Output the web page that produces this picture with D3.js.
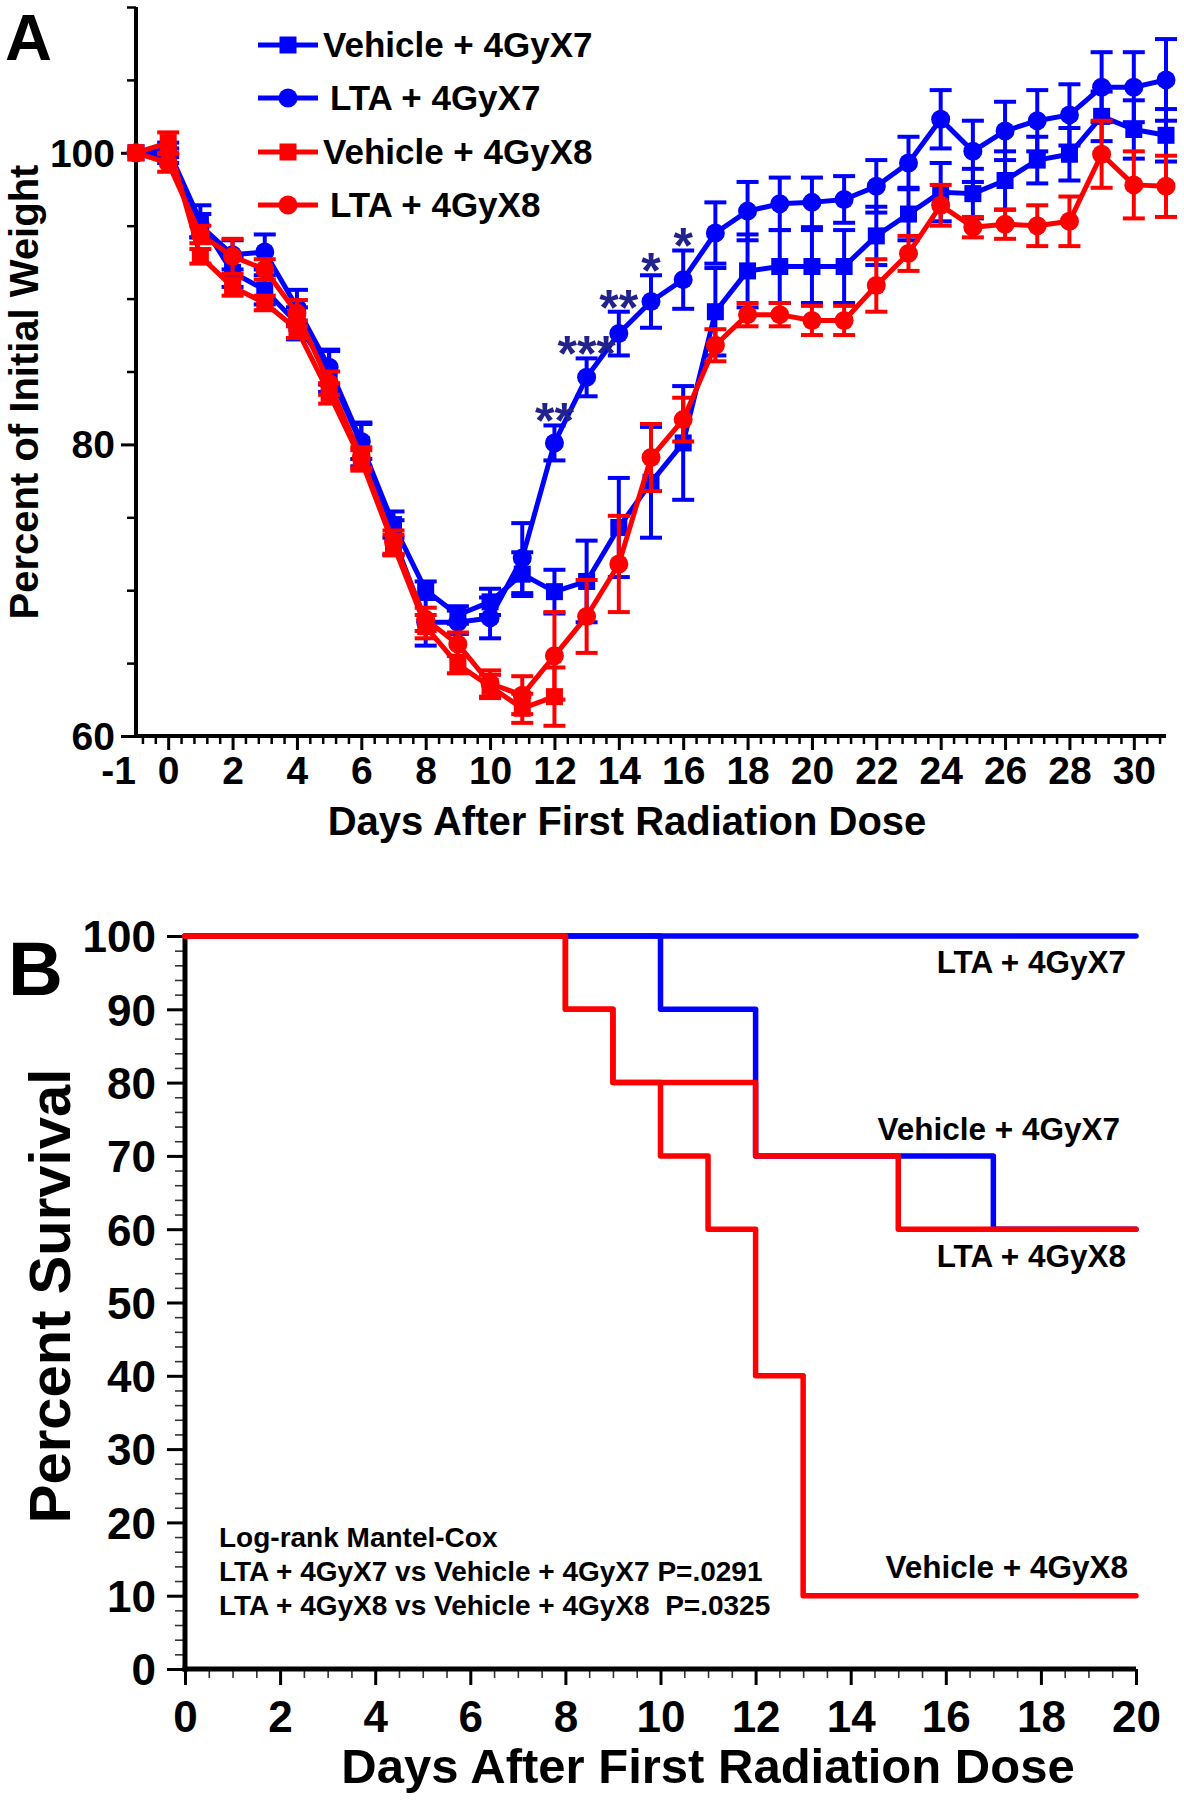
<!DOCTYPE html>
<html><head><meta charset="utf-8">
<script src="https://cdn.jsdelivr.net/npm/d3@7"></script>
<style>
body{margin:0;background:#fff}
svg{display:block}
text{font-family:"Liberation Sans",Arial,Helvetica,sans-serif;font-weight:bold;fill:#000}
</style>
</head><body>
<svg id="chart" width="1184" height="1800"></svg>
<script>
// ---------- Panel A data (percent of initial weight) ----------
const days = [-1,0,1,2,3,4,5,6,7,8,9,10,11,12,13,14,15,16,17,18,19,20,21,22,23,24,25,26,27,28,29,30,31];
const veh7Mean = [100,100.2,95.3,91.8,90.6,88.3,85.0,80.0,74.5,70.0,68.3,69.2,71.1,69.9,70.6,74.3,77.4,80.1,89.1,91.9,92.2,92.2,92.2,94.3,95.8,97.3,97.2,98.1,99.5,99.9,102.5,101.6,101.2];
const veh7Sem  = [0,0.5,1.1,1.0,1.0,1.1,1.4,1.5,0.9,0.6,0.6,0.9,1.5,1.5,2.8,3.4,3.8,3.9,3.0,2.5,2.5,2.5,2.5,2.0,1.8,2.0,1.7,2.0,1.6,1.8,1.7,2.0,1.8];
const lta7Mean = [100,99.8,95.0,93.0,93.2,89.4,85.3,80.2,73.6,67.8,67.8,68.1,72.2,80.1,84.6,87.6,89.8,91.3,94.5,96.0,96.5,96.6,96.8,97.7,99.3,102.3,100.1,101.5,102.2,102.6,104.5,104.5,105.0];
const lta7Sem  = [0,0.5,0.8,1.0,1.2,1.2,1.2,1.2,1.2,1.6,0.8,1.4,2.4,1.2,1.3,1.5,1.8,2.0,2.1,2.0,1.8,1.7,1.6,1.8,1.8,2.0,2.1,2.0,2.1,2.1,2.4,2.4,2.8];
const veh8Days = [-1,0,1,2,3,4,5,6,7,8,9,10,11,12];
const veh8Mean = [100,100.7,92.9,90.8,89.7,87.9,83.5,78.9,73.1,67.5,64.9,63.4,61.9,62.7];
const veh8Sem  = [0,0.7,0.5,0.6,0.5,0.6,0.7,0.7,0.7,0.8,0.6,0.8,1.0,2.0];
const lta8Mean = [100,99.3,94.4,92.9,92.0,89.0,84.2,79.1,73.3,68.0,66.3,63.6,62.8,65.5,68.2,71.8,79.1,81.7,86.8,88.9,88.9,88.5,88.5,90.9,93.1,96.4,94.9,95.1,95.0,95.3,99.9,97.8,97.7];
const lta8Sem  = [0,0.6,0.6,1.2,0.7,0.9,0.8,0.7,0.8,0.8,0.8,0.9,1.3,3.0,2.5,3.3,2.3,1.5,1.1,0.8,0.8,1.0,1.0,1.8,1.2,1.4,0.7,1.0,1.4,1.7,2.3,2.3,2.1];
const seriesNames = ["Vehicle + 4GyX7","LTA + 4GyX7","Vehicle + 4GyX8","LTA + 4GyX8"];
const sigDays   = [12,13,14,15,16];
const sigLabels = ["**","***","**","*","*"];
const weightTicks = [60,80,100];
const weightMinorTicks = [65,70,75,85,90,95,105,110];
const dayTicks = [-1,0,2,4,6,8,10,12,14,16,18,20,22,24,26,28,30];

// ---------- Panel B data (percent survival, Kaplan-Meier steps) ----------
const lta7Times = [0,20],                 lta7Surv = [100,100];
const veh7Times = [0,10,12,17,20],        veh7Surv = [100,90,70,60,60];
const lta8Times = [0,8,9,12,15,20],       lta8Surv = [100,90,80,70,60,60];
const veh8Times = [0,8,9,10,11,12,13,20], veh8Surv = [100,90,80,70,60,40,10,10];
const survTicks = [0,10,20,30,40,50,60,70,80,90,100];
const survDayTicks = [0,2,4,6,8,10,12,14,16,18,20];
const statLines = ["Log-rank Mantel-Cox","LTA + 4GyX7 vs Vehicle + 4GyX7 P=.0291","LTA + 4GyX8 vs Vehicle + 4GyX8  P=.0325"];

const BLUE = "#0000ff", RED = "#ff0000", NAVY = "#22228c";
const fmt = d => String(d);   // plain hyphen-minus
const svg = d3.select("#chart");

// ================= PANEL A =================
const xA = d3.scaleLinear().domain([-1,31]).range([136,1166]);
const yA = d3.scaleLinear().domain([60,110]).range([736,7]);
const gA = svg.append("g");

function styleAxis(g, w, col){
  g.select(".domain").remove();
  g.selectAll(".tick line").attr("stroke", col||"#000").attr("stroke-width", w);
}
// x axis A
const xMinorA = d3.range(-0.8, 31, 0.4).map(v=>+v.toFixed(1)).filter(v=>Math.abs(v/2-Math.round(v/2))>1e-6);
gA.append("g").attr("transform","translate(0,736)")
  .call(d3.axisBottom(xA).tickValues(xMinorA).tickSize(8).tickFormat(""))
  .call(g=>styleAxis(g,2.5));
const xAxA = gA.append("g").attr("transform","translate(0,736)")
  .call(d3.axisBottom(xA).tickValues(dayTicks.filter(d=>d>=0)).tickSize(14).tickFormat(fmt))
  .call(g=>styleAxis(g,3));
xAxA.selectAll(".tick text").attr("y",48).attr("dy",null).attr("font-size",39).attr("fill","#000");
gA.append("text").attr("x",136).attr("y",736+48).attr("text-anchor","end").attr("font-size",39).text(fmt(dayTicks[0]));
// y axis A
gA.append("g").attr("transform","translate(136,0)")
  .call(d3.axisLeft(yA).tickValues(weightMinorTicks).tickSize(9).tickFormat(""))
  .call(g=>styleAxis(g,2.5));
const yAxA = gA.append("g").attr("transform","translate(136,0)")
  .call(d3.axisLeft(yA).tickValues(weightTicks).tickSize(15).tickFormat(fmt))
  .call(g=>styleAxis(g,3));
yAxA.selectAll(".tick text").attr("x",-21).attr("dy","0.34em").attr("font-size",39).attr("fill","#000");
// axis lines
gA.append("line").attr("x1",136).attr("x2",136).attr("y1",yA(110)).attr("y2",737.5).attr("stroke","#000").attr("stroke-width",4);
gA.append("line").attr("x1",134).attr("x2",xA(31)).attr("y1",736).attr("y2",736).attr("stroke","#000").attr("stroke-width",4);

// series
const seriesA = [
  {name:seriesNames[0], x:days, m:veh7Mean, s:veh7Sem, col:BLUE, shape:"square"},
  {name:seriesNames[1], x:days, m:lta7Mean, s:lta7Sem, col:BLUE, shape:"circle"},
  {name:seriesNames[2], x:veh8Days, m:veh8Mean, s:veh8Sem, col:RED, shape:"square"},
  {name:seriesNames[3], x:days, m:lta8Mean, s:lta8Sem, col:RED, shape:"circle"}
];
const SQ = 17, CR = 9.5, CAP = 11;
function marker(g, shape, cx, cy, col){
  if(shape==="square") g.append("rect").attr("x",cx-SQ/2).attr("y",cy-SQ/2).attr("width",SQ).attr("height",SQ).attr("fill",col);
  else g.append("circle").attr("cx",cx).attr("cy",cy).attr("r",CR).attr("fill",col);
}
const lineA = d3.line().x(d=>xA(d.x)).y(d=>yA(d.m));
seriesA.forEach(S=>{
  const g = gA.append("g");
  const pts = S.x.map((x,i)=>({x, m:S.m[i], s:S.s[i]}));
  const eb = g.append("g").attr("stroke",S.col).attr("stroke-width",4);
  pts.filter(p=>p.s>0).forEach(p=>{
    const cx = xA(p.x), t = yA(p.m+p.s), b = yA(p.m-p.s);
    eb.append("line").attr("x1",cx).attr("x2",cx).attr("y1",t).attr("y2",b);
    eb.append("line").attr("x1",cx-CAP).attr("x2",cx+CAP).attr("y1",t).attr("y2",t);
    eb.append("line").attr("x1",cx-CAP).attr("x2",cx+CAP).attr("y1",b).attr("y2",b);
  });
  g.append("path").datum(pts).attr("d",lineA).attr("fill","none").attr("stroke",S.col).attr("stroke-width",5).attr("stroke-linejoin","round");
  pts.forEach(p=>marker(g,S.shape,xA(p.x),yA(p.m),S.col));
});
// significance
sigDays.forEach((d,i)=>{
  const k = days.indexOf(d);
  gA.append("text").attr("x",xA(d)).attr("y",yA(lta7Mean[k]+lta7Sem[k])+13)
    .attr("text-anchor","middle").attr("font-size",50).style("fill",NAVY).text(sigLabels[i]);
});
// legend
const legRows = [45,98,152,205];
seriesA.forEach((S,i)=>{
  const y = legRows[i];
  gA.append("line").attr("x1",258).attr("x2",318).attr("y1",y).attr("y2",y).attr("stroke",S.col).attr("stroke-width",5);
  marker(gA,S.shape,288,y,S.col);
  gA.append("text").attr("x", S.name.startsWith("LTA")?330:323).attr("y",y+12).attr("font-size",35).text(S.name);
});
// titles
gA.append("text").attr("transform","translate(38,392) rotate(-90)").attr("text-anchor","middle").attr("font-size",40).text("Percent of Initial Weight");
gA.append("text").attr("x",627).attr("y",835).attr("text-anchor","middle").attr("font-size",40).text("Days After First Radiation Dose");
gA.append("text").attr("x",5).attr("y",60).attr("font-size",65).text("A");

// ================= PANEL B =================
const xB = d3.scaleLinear().domain([0,20]).range([185,1136]);
const yB = d3.scaleLinear().domain([0,100]).range([1669,936]);
const gB = svg.append("g");
const yMinorB = d3.range(0,101,2).filter(v=>v%10!==0);
gB.append("g").attr("transform","translate(185,0)")
  .call(d3.axisLeft(yB).tickValues(yMinorB).tickSize(10).tickFormat(""))
  .call(g=>styleAxis(g,1.6,"#333"));
const yAxB = gB.append("g").attr("transform","translate(185,0)")
  .call(d3.axisLeft(yB).tickValues(survTicks).tickSize(18).tickFormat(fmt))
  .call(g=>styleAxis(g,3));
yAxB.selectAll(".tick text").attr("x",-29).attr("dy","0.36em").attr("font-size",44).attr("fill","#000");
const xMinorB = d3.range(0.5,20,0.5).filter(v=>v%2!==0);
gB.append("g").attr("transform","translate(0,1669)")
  .call(d3.axisBottom(xB).tickValues(xMinorB).tickSize(9).tickFormat(""))
  .call(g=>styleAxis(g,1.6,"#333"));
const xAxB = gB.append("g").attr("transform","translate(0,1669)")
  .call(d3.axisBottom(xB).tickValues(survDayTicks).tickSize(16).tickFormat(fmt))
  .call(g=>styleAxis(g,3));
xAxB.selectAll(".tick text").attr("y",63).attr("dy",null).attr("font-size",44).attr("fill","#000");
gB.append("line").attr("x1",185).attr("x2",185).attr("y1",yB(100)-1).attr("y2",1671.5).attr("stroke","#000").attr("stroke-width",5);
gB.append("line").attr("x1",182.5).attr("x2",xB(20)).attr("y1",1669).attr("y2",1669).attr("stroke","#000").attr("stroke-width",5);

const stepLine = d3.line().x(d=>xB(d[0])).y(d=>yB(d[1])).curve(d3.curveStepAfter);
const survSeries = [
  {t:lta7Times, s:lta7Surv, col:BLUE},
  {t:veh7Times, s:veh7Surv, col:BLUE},
  {t:lta8Times, s:lta8Surv, col:RED},
  {t:veh8Times, s:veh8Surv, col:RED}
];
survSeries.forEach(S=>{
  gB.append("path").datum(S.t.map((t,i)=>[t,S.s[i]])).attr("d",stepLine)
    .attr("fill","none").attr("stroke",S.col).attr("stroke-width",5.5).attr("stroke-linejoin","round").attr("stroke-linecap","round");
});
// curve labels
const curveLabels = [
  {txt:seriesNames[1], x:1126, y:973},
  {txt:seriesNames[0], x:1120, y:1140},
  {txt:seriesNames[3], x:1126, y:1267},
  {txt:seriesNames[2], x:1128, y:1578}
];
curveLabels.forEach(L=>gB.append("text").attr("x",L.x).attr("y",L.y).attr("text-anchor","end").attr("font-size",31.5).text(L.txt));
statLines.forEach((s,i)=>gB.append("text").attr("x",219).attr("y",1547+i*34).attr("font-size",28).attr("xml:space","preserve").style("white-space","pre").text(s));
gB.append("text").attr("transform","translate(70,1296) rotate(-90)").attr("text-anchor","middle").attr("font-size",58).text("Percent Survival");
gB.append("text").attr("x",708).attr("y",1783).attr("text-anchor","middle").attr("font-size",49).text("Days After First Radiation Dose");
gB.append("text").attr("x",8).attr("y",995).attr("font-size",76).text("B");
</script>
</body></html>
